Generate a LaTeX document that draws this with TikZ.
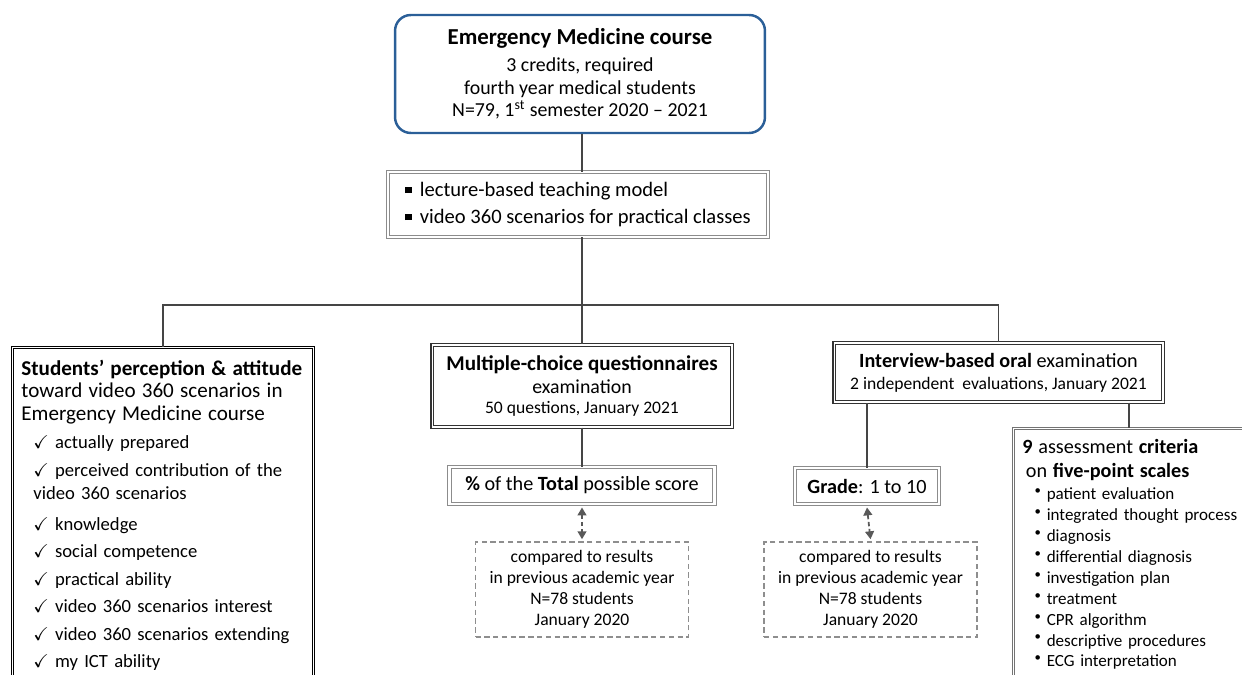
\documentclass[tikz,border=0pt]{standalone}
\usepackage{fontspec}
\setmainfont{Carlito}
\usepackage{amssymb}
\usetikzlibrary{arrows.meta, calc, positioning}

\definecolor{courseblue}{HTML}{2B5F98}
\definecolor{linegray}{HTML}{454545}
\definecolor{dashgray}{HTML}{8E8E8E}

\newcommand{\chk}{$\checkmark$\ }
\newcommand{\sqb}{\rule[0.16em]{0.32em}{0.32em}\ \,}
\newcommand{\dotb}{\raisebox{0.3em}{\scalebox{0.75}{\textbullet}}\ }

\begin{document}
\begin{tikzpicture}[x=0.02cm, y=-0.02cm,
    conn/.style={draw=linegray, line width=0.8pt},
    softbox/.style={draw=black!45, double=white, double distance=1.3pt, line width=0.55pt},
    hardbox/.style={draw=black!80, double=white, double distance=0.6pt, line width=0.6pt},
    dashbox/.style={draw=dashgray, dashed, line width=0.9pt, dash pattern=on 3pt off 2pt},
    cmparrow/.style={draw=black!65, line width=1pt, dash pattern=on 2.5pt off 1.5pt,
        {Triangle[length=4.5pt,width=5pt]}-{Triangle[length=4.5pt,width=5pt]}}]
  \useasboundingbox (0,0) rectangle (1242,675);
  \clip (0,0) rectangle (1242,675);

  % course and teaching model
  \node[draw=courseblue, line width=1.4pt, rounded corners=9pt, minimum width=7.4cm,
        minimum height=2.36cm, align=center, font=\fontsize{11.3}{12.8}\selectfont]
        (course) at (580,74)
        {{\fontsize{13}{15}\selectfont\bfseries Emergency Medicine course}\\[2.3pt]
         3 credits, required\\ fourth year medical students\\
         N=79, 1\textsuperscript{st} semester 2020 -- 2021};
  \node[softbox, minimum width=7.6cm, minimum height=1.3cm, align=left,
        font=\fontsize{11.7}{12.8}\selectfont] (teach) at (578,204.5)
        {\sqb lecture-based teaching model\\[2.5pt]
         \sqb video 360 scenarios for practical classes};
  \coordinate (hub) at (582,305);

  % students' perception
  \node[draw=black, double=white, double distance=0.7pt, line width=0.5pt,
        anchor=north west, text width=5.66cm, inner xsep=0.18cm, inner ysep=7pt,
        text depth=7cm, align=left, font=\fontsize{10.6}{15.6}\selectfont]
        (stud) at (12,347)
        {{\fontsize{12}{13}\selectfont\bfseries Students’ perception \& attitude}\\[-2.6pt]
         {\fontsize{12}{13}\selectfont toward video 360 scenarios in}\\[-2.6pt]
         {\fontsize{12}{13}\selectfont Emergency Medicine course}\\[0.3pt]
         \hspace*{6.8pt}\chk actually prepared\\
         \hspace*{6.8pt}\chk perceived contribution of the\\[-2pt]
         \hspace*{6.8pt}video 360 scenarios\\[1.7pt]
         \hspace*{6.8pt}\chk knowledge\\
         \hspace*{6.8pt}\chk social competence\\
         \hspace*{6.8pt}\chk practical ability\\
         \hspace*{6.8pt}\chk video 360 scenarios interest\\
         \hspace*{6.8pt}\chk video 360 scenarios extending\\
         \hspace*{6.8pt}\chk my ICT ability};

  % multiple-choice branch
  \node[hardbox, minimum width=6cm, minimum height=1.64cm, align=center,
        font=\fontsize{11.3}{12.8}\selectfont] (mcq) at (582,386)
        {{\fontsize{12}{13}\selectfont\bfseries Multiple-choice questionnaires}\\[0.4pt]
         examination\\[-1.5pt]
         {\fontsize{10}{11}\selectfont 50 questions, January 2021}};
  \node[softbox, minimum width=5.3cm, minimum height=0.74cm,
        font=\fontsize{11.5}{13}\selectfont] (score) at (582,485.5)
        {\textbf{\%} of the \textbf{Total} possible score};
  \node[dashbox, minimum width=4.26cm, minimum height=1.9cm, align=center,
        font=\fontsize{10}{11.9}\selectfont] (cmp1) at (582,589.5)
        {compared to results\\ in previous academic year\\ N=78 students\\ January 2020};

  % oral examination branch
  \node[hardbox, minimum width=6.58cm, minimum height=1.18cm, align=center,
        font=\fontsize{11.5}{13}\selectfont] (iv) at (998.5,372.5)
        {\textbf{Interview-based oral} examination\\[-0.5pt]
         {\fontsize{10}{11}\selectfont 2 independent\ \ evaluations, January 2021}};
  \node[softbox, minimum width=2.88cm, minimum height=0.72cm,
        font=\fontsize{11.5}{13}\selectfont] (grade) at (867,486)
        {\textbf{Grade}: 1 to 10};
  \node[dashbox, minimum width=4.26cm, minimum height=1.9cm, align=center,
        font=\fontsize{10}{11.9}\selectfont] (cmp2) at (870.5,589.5)
        {compared to results\\ in previous academic year\\ N=78 students\\ January 2020};
  \node[draw=black!55, double=white, double distance=0.7pt, line width=0.5pt,
        anchor=north west, text width=5cm, inner xsep=0.18cm, inner ysep=6.4pt,
        text depth=6cm, align=left, font=\fontsize{9.7}{11.9}\selectfont]
        (crit) at (1013,428)
        {{\fontsize{11.5}{13}\selectfont\textbf{9} assessment\ \textbf{criteria}}\\[1.7pt]
         {\fontsize{11.5}{13}\selectfont\hspace*{2pt}on \textbf{five-point scales}}\\[0.6pt]
         \hspace*{7pt}\dotb patient evaluation\\
         \hspace*{7pt}\dotb integrated thought process\\
         \hspace*{7pt}\dotb diagnosis\\
         \hspace*{7pt}\dotb differential diagnosis\\
         \hspace*{7pt}\dotb investigation plan\\
         \hspace*{7pt}\dotb treatment\\
         \hspace*{7pt}\dotb CPR algorithm\\
         \hspace*{7pt}\dotb descriptive procedures\\
         \hspace*{7pt}\dotb ECG interpretation};

  % connectors
  \draw[conn] (course.south -| hub) -- (teach.north -| hub);
  \draw[conn] (teach.south -| hub) -- (hub);
  \draw[conn] (stud.north) |- (hub) -| (iv.north);
  \draw[conn] (hub) -- (mcq);
  \draw[conn] (mcq) -- (score);
  \draw[conn] (grade.north) -- (grade.north |- iv.south);
  \draw[conn] (iv.south -| 1129,0) -- (crit.north -| 1129,0);
  \draw[cmparrow] (score.south) ++(0,3) -- ($(cmp1.north)+(0,-2)$);
  \draw[cmparrow] (grade.south) ++(0,3) -- ($(cmp2.north)+(0,-2)$);
\end{tikzpicture}
\end{document}
